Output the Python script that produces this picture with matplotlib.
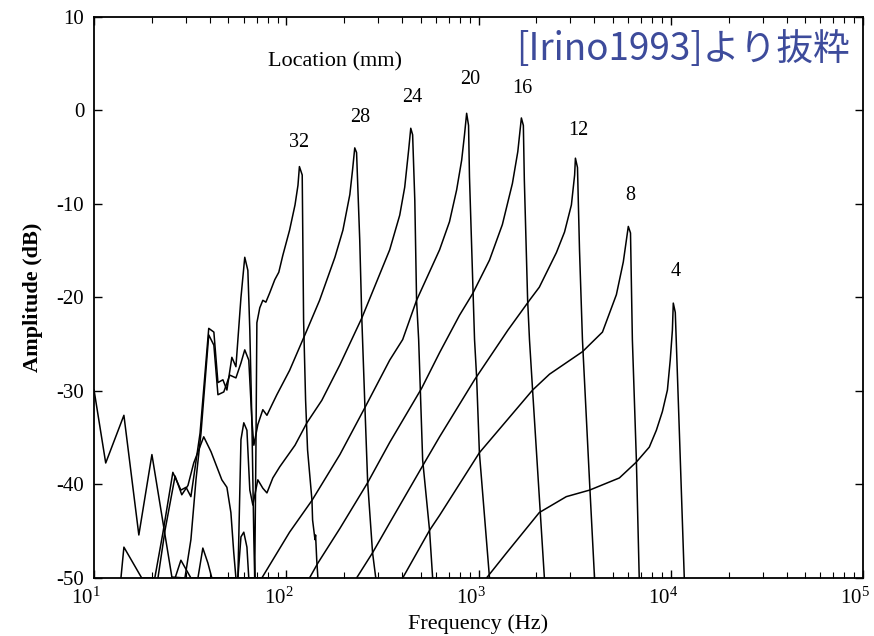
import matplotlib
matplotlib.use('Agg')
import matplotlib.pyplot as plt
import matplotlib.transforms as mtransforms
import numpy as np
from matplotlib.ticker import LogLocator, NullFormatter

plt.rcParams['font.family'] = ['Liberation Serif', 'DejaVu Serif']
plt.rcParams['axes.unicode_minus'] = False
plt.rcParams['mathtext.fontset'] = 'custom'
plt.rcParams['mathtext.rm'] = 'Liberation Serif'

# frequency (Hz) / amplitude (dB), one pair per location
freq_32 = [13.8, 14.3, 17.7, 20.7, 22.8, 25.7, 28.3, 30.1, 31.9, 35.6, 39.5, 42.0, 44.1, 46.8, 49.1, 52.1, 54.7,
           58.1, 60.8, 63.1, 64.6, 66.2, 67.8, 68.5, 69.5, 70.3, 72.8, 75.5, 78.3, 82.0, 87.1, 91.4, 95.9,
           104, 111, 115, 117, 121, 123, 126, 129, 136, 137, 141, 142, 144, 146]
db_32 = [-50, -46.7, -50, -50, -45.2, -38.7, -40.6, -40.3, -41.3, -34.5, -23.3, -23.7, -29.1, -28.8, -29.9, -26.4, -27.4,
         -20.0, -15.7, -17.1, -23.5, -33.1, -45.9, -50, -36.3, -22.7, -21.1, -20.3, -20.5, -19.5, -18.1, -17.3, -15.5,
         -12.8, -10.1, -8.0, -6.0, -6.9, -22.4, -31.0, -36.3, -41.7, -43.8, -45.9, -45.4, -48.1, -50]

freq_28 = [10.0, 11.5, 14.3, 17.1, 20.0, 25.4, 29.7, 31.9, 33.9, 36.0, 39.5, 42.0, 44.1, 47.3, 50.8, 54.7, 58.1,
           60.8, 63.8, 66.2, 67.8, 71.1, 75.5, 79.3, 84.1, 89.3, 104, 128, 149, 179, 197, 214, 221, 227,
           232, 241, 247, 256, 265, 281, 292]
db_28 = [-29.9, -37.7, -32.6, -45.4, -36.8, -49.9, -50, -45.9, -39.5, -34.5, -24.0, -25.1, -30.4, -30.1, -28.3, -28.6, -27.0,
         -25.6, -26.7, -33.1, -35.8, -33.6, -32.0, -32.6, -31.5, -30.4, -27.8, -23.5, -20.3, -15.7, -12.8, -9.0, -6.4, -4.0,
         -4.5, -13.9, -22.2, -31.3, -39.8, -47.3, -50]

freq_24 = [21.5, 23.4, 26.4, 28.6, 30.8, 33.0, 37.2, 40.6, 46.2, 49.1, 51.5, 53.3, 54.7, 56.0, 58.1, 60.1, 62.4,
           64.6, 67.0, 71.1, 75.5, 79.3, 85.1, 92.5, 111, 128, 153, 190, 247, 345, 389, 413, 433, 444,
           454, 466, 476, 488, 512, 556, 577]
db_24 = [-50, -44.9, -39.1, -41.1, -40.1, -37.7, -34.9, -36.5, -39.5, -40.3, -43.0, -47.3, -50, -50, -35.2, -33.4, -34.2,
         -40.6, -42.2, -39.5, -40.4, -40.9, -39.3, -38.1, -35.8, -33.4, -31.0, -27.2, -22.2, -14.9, -11.2, -8.2, -4.2, -1.9,
         -2.6, -9.6, -20.3, -24.5, -37.4, -44.9, -50]

freq_20 = [34.7, 36.8, 39.1, 41.0, 56.0, 58.1, 60.1, 62.4, 63.8, 74.6, 104, 136, 190, 256, 345, 403, 476,
           627, 706, 769, 817, 845, 867, 887, 897, 953, 977, 1010, 1140]
db_20 = [-50, -46.8, -48.4, -50, -50, -45.6, -45.1, -46.7, -50, -50, -45.1, -41.7, -36.8, -31.8, -26.7, -24.5, -20.3,
         -14.9, -11.9, -8.5, -5.3, -2.6, -0.3, -1.6, -7.1, -24.5, -28.5, -36.6, -50]

freq_16 = [26.4, 28.3, 31.9, 132, 146, 190, 265, 345, 506, 627, 796, 931, 1140, 1330, 1500, 1600, 1670,
           1710, 1730, 1800, 1840, 1910, 2200]
db_16 = [-50, -48.1, -50, -50, -48.4, -44.7, -39.8, -35.5, -29.7, -25.9, -21.9, -19.6, -16.0, -12.2, -7.8, -4.4, -0.8,
         -1.6, -7.4, -20.3, -24.5, -29.9, -50]

freq_12 = [232, 281, 345, 512, 627, 953, 1420, 1840, 2070, 2540, 2800, 3040, 3160, 3190, 3270, 3350, 3470,
           3780, 4010]
db_12 = [-50, -47.3, -44.1, -38.0, -34.9, -28.8, -23.5, -20.3, -18.9, -15.2, -13.0, -10.1, -6.9, -5.1, -6.1, -14.9, -24.5,
         -39.8, -50]

freq_8 = [403, 556, 627, 1010, 1910, 2340, 3470, 4410, 5210, 5660, 6010, 6170, 6310, 6620, 6850]
db_8 = [-50, -44.9, -43.3, -36.6, -29.9, -28.2, -25.8, -23.7, -19.7, -16.2, -12.4, -13.1, -24.5, -37.4, -50]

freq_4 = [1100, 1400, 2070, 2860, 3780, 5400, 6620, 7730, 8410, 9040, 9600, 9930, 10190, 10300, 10550, 11070, 11750]
db_4 = [-50, -47.3, -43.0, -41.3, -40.6, -39.3, -37.6, -36.0, -34.2, -32.2, -29.9, -26.7, -23.5, -20.6, -21.6, -34.2, -50]

locations = ['32', '28', '24', '20', '16', '12', '8', '4']
label_freq = [117, 241, 454, 908, 1690, 3300, 6170, 10550]
label_db = [-3.4, -0.7, 1.4, 3.3, 2.4, -2.1, -9.1, -17.2]

xticks = [10, 100, 1000, 10000, 100000]
xtick_labels = [r'$\mathregular{10^{%d}}$' % k for k in range(1, 6)]
yticks = [-50, -40, -30, -20, -10, 0, 10]

fig = plt.figure(figsize=(8.74, 6.36), dpi=100)
ax = fig.add_axes([0.1076, 0.0912, 0.8799, 0.8821])

curves = [(freq_32, db_32), (freq_28, db_28), (freq_24, db_24), (freq_20, db_20),
          (freq_16, db_16), (freq_12, db_12), (freq_8, db_8), (freq_4, db_4)]
for f, a in curves:
    ax.plot(f, a, color='black', lw=1.1)

ax.set_xscale('log')
ax.set_xlim(10, 1e5)
ax.set_ylim(-50, 10)
ax.set_xticks(xticks)
ax.set_xticklabels(xtick_labels)
ax.xaxis.set_minor_locator(LogLocator(base=10, subs=np.arange(2, 10)))
ax.xaxis.set_minor_formatter(NullFormatter())
ax.set_yticks(yticks)
ax.set_yticklabels([str(v) for v in yticks])

ax.tick_params(which='both', direction='in', top=True, right=True)
ax.tick_params(which='major', length=6, width=1, labelsize=15, pad=7)
ax.tick_params(which='minor', length=4, width=0.8)
for s in ax.spines.values():
    s.set_linewidth(1.3)

# the scanned labels sit a little left of their ticks
shift = mtransforms.ScaledTranslation(-8 / 100, 0, fig.dpi_scale_trans)
for lbl in ax.get_xticklabels():
    lbl.set_transform(lbl.get_transform() + shift)

ax.set_xlabel('Frequency (Hz)', fontsize=16, labelpad=4)
ax.set_ylabel('Amplitude (dB)', fontsize=16, fontweight='bold', labelpad=10)

for lab, f, a in zip(locations, label_freq, label_db):
    ax.text(f, a, lab, fontsize=14.5, ha='center', va='center')
ax.text(179, 5.2, 'Location (mm)', fontsize=16, ha='center', va='center')

fig.text(0.591, 0.922, '[Irino1993]より抜粋', color='#3d4b9b', fontsize=26.5,
         family=['Noto Sans CJK JP', 'DejaVu Sans'], ha='left', va='center')

plt.savefig('out.png', dpi=100)
